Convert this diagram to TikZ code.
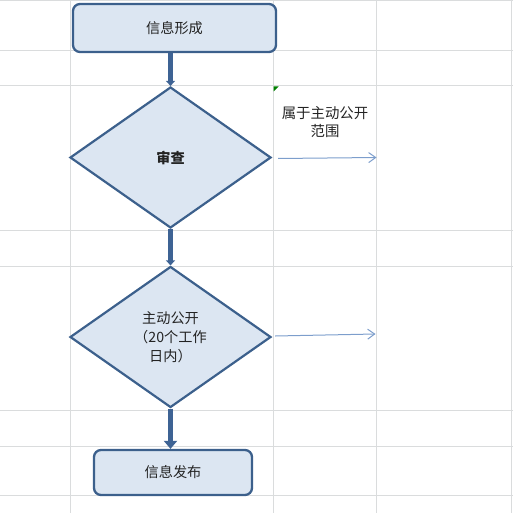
\documentclass[tikz,border=0pt]{standalone}
\usepackage{fontspec}
\setmainfont{Noto Sans CJK SC}
\usetikzlibrary{shapes.geometric,arrows.meta}
\definecolor{gridc}{RGB}{218,220,221}
\definecolor{shapefill}{RGB}{220,230,242}
\definecolor{shapeline}{RGB}{60,96,140}
\definecolor{thick}{RGB}{62,99,148}
\definecolor{thin}{RGB}{125,158,204}
\definecolor{txt}{RGB}{35,35,35}
\definecolor{excelgreen}{RGB}{0,128,0}
\tikzset{
  gridline/.style={draw=gridc, line width=1pt},
  roundbox/.style={draw=shapeline, fill=shapefill, line width=2.3pt, rounded corners=7pt, inner sep=0pt, text=txt, font=\fontsize{14.2}{16}\selectfont},
  decision/.style={diamond, draw=shapeline, fill=shapefill, line width=2.2pt, inner sep=0pt, minimum width=201pt, minimum height=141pt, aspect=1.43, text=txt, align=center, font=\fontsize{14.2}{19}\selectfont},
  mainflow/.style={draw=thick, line width=4.5pt, -{Triangle[width=9pt,length=5pt]}},
  mainflowbig/.style={draw=thick, line width=5pt, -{Triangle[width=13pt,length=8pt]}},
  sideflow/.style={draw=thin, line width=1pt, -{Straight Barb[length=7pt,width=10pt,line width=1pt]}},
  plaintext/.style={text=txt, align=center, font=\fontsize{14.4}{18}\selectfont, inner sep=0pt}
}
\begin{document}
\begin{tikzpicture}[x=1pt,y=-1pt]
\useasboundingbox (0,0) rectangle (513,513);
% grid
\foreach \gx in {70,273,376,511.5} \draw[gridline] (\gx,0) -- (\gx,513);
\foreach \gy in {0.5,50.5,86,230,266,410,446,495} \draw[gridline] (0,\gy) -- (513,\gy);
% excel indicator
\fill[excelgreen] (273.5,86.5) -- (278.5,86.5) -- (273.5,91.5) -- cycle;
% nodes
\node[roundbox, minimum width=203pt, minimum height=48pt] (form) at (174.5,28) {信息形成};
\node[decision] (review) at (170.5,157.5) {\bfseries 审查};
\node[decision] (active) at (170.5,337) {主动公开\\（20个工作\\日内）};
\node[roundbox, minimum width=158pt, minimum height=45pt] (publish) at (173,472.5) {信息发布};
\node[plaintext] (scope) at (325,122) {属于主动公开\\范围};
\coordinate (end1) at (376.5,157.5);
\coordinate (end2) at (375.5,334);
% connectors
\draw[mainflow] (form.south -| review.north) -- (review.north);
\draw[mainflow] (review.south) -- (active.north);
\draw[mainflowbig] (active.south) -- (publish.north -| active.south);
\draw[sideflow] ([xshift=6pt,yshift=-1pt]review.east) -- (end1);
\draw[sideflow] ([xshift=3pt,yshift=1pt]active.east) -- (end2);
\end{tikzpicture}
\end{document}
